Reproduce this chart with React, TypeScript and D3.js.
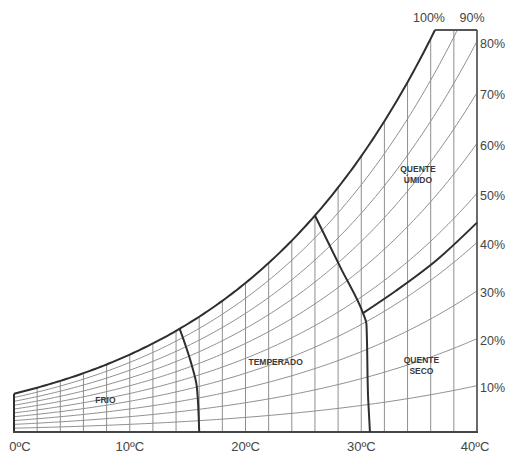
import React from "react";
import * as d3 from "d3";

// Psychrometric grid: dry-bulb temperature (ºC) vs humidity ratio (g/kg)
const TEMP_TICKS = [0, 10, 20, 30, 40];
const TEMP_GRID = [2, 4, 6, 8, 10, 12, 14, 16, 18, 20, 22, 24, 26, 28, 30, 32, 34, 36, 38];
const RH_LEVELS = [10, 20, 30, 40, 50, 60, 70, 80, 90];
const RH_RIGHT_LABELS = [10, 20, 30, 40, 50, 60, 70, 80];
const T_TOP = 36.37; // where saturation reaches the top of the chart

// Zone boundaries as [temperature ºC, humidity ratio g/kg]
const FRIO_TEMPERADO: [number, number][] = [
  [14.3, 10.2],
  [15.3, 6.8],
  [15.8, 4.4],
  [16.0, 0],
];
const TEMPERADO_QUENTE: [number, number][] = [
  [26.0, 21.3],
  [28.2, 16.2],
  [30.15, 11.7],
  [30.45, 10.6],
  [30.6, 3.2],
  [30.75, 0],
];
const QUENTE_SPLIT: [number, number][] = [
  [30.15, 11.7],
  [33, 13.9],
  [36.5, 16.9],
  [40, 20.6],
];

const ZONE_LABELS = [
  { lines: ["FRIO"], t: 7.9, w: 3.1 },
  { lines: ["TEMPERADO"], t: 22.6, w: 6.9 },
  { lines: ["QUENTE", "ÚMIDO"], t: 34.9, w: 25.4 },
  { lines: ["QUENTE", "SECO"], t: 35.2, w: 6.6 },
];

const P_ATM = 101.325;
const psat = (t: number) => 0.61094 * Math.exp((17.625 * t) / (t + 243.04));
const humidity = (t: number, rh: number) => {
  const pv = (rh / 100) * psat(t);
  return (622 * pv) / (P_ATM - pv);
};

const W_TOP = humidity(T_TOP, 100);

export default function App() {
  const width = 512;
  const height = 453;
  const x = d3.scaleLinear().domain([0, 40]).range([14, 477]);
  const y = d3.scaleLinear().domain([0, W_TOP]).range([432, 30]);

  const samples = d3.range(0, 40.001, 0.25);
  const line = d3
    .line<[number, number]>()
    .x((d) => x(d[0]))
    .y((d) => y(d[1]));
  const smooth = d3
    .line<[number, number]>()
    .x((d) => x(d[0]))
    .y((d) => y(d[1]))
    .curve(d3.curveMonotoneY);
  const rhPath = (rh: number) =>
    line(samples.map((t) => [t, humidity(t, rh)] as [number, number])) || "";

  const satPts = samples
    .filter((t) => t <= T_TOP)
    .map((t) => [t, humidity(t, 100)] as [number, number]);
  satPts.push([T_TOP, W_TOP]);

  const grid = "#8f8f8f";
  const dark = "#2e2e2e";
  const font = "'Liberation Sans', Arial, sans-serif";

  return (
    <svg
      width={width}
      height={height}
      style={{ position: "absolute", left: 0, top: 0, background: "#fff" }}
    >
      <defs>
        <clipPath id="plot">
          <rect x={x(0)} y={y(W_TOP)} width={x(40) - x(0)} height={y(0) - y(W_TOP)} />
        </clipPath>
      </defs>

      {/* dry-bulb verticals, up to the saturation curve */}
      {TEMP_GRID.map((t) => (
        <line
          key={t}
          x1={x(t)}
          x2={x(t)}
          y1={y(0)}
          y2={y(Math.min(humidity(t, 100), W_TOP))}
          stroke={grid}
          strokeWidth={1}
        />
      ))}

      {/* relative humidity curves */}
      <g clipPath="url(#plot)">
        {RH_LEVELS.map((rh) => (
          <path key={rh} d={rhPath(rh)} fill="none" stroke={grid} strokeWidth={1} />
        ))}
      </g>

      {/* frame */}
      <line x1={x(0)} x2={x(0)} y1={y(0)} y2={y(humidity(0, 100))} stroke={dark} strokeWidth={2} />
      <line x1={x(40)} x2={x(40)} y1={y(0)} y2={y(W_TOP)} stroke="#6a6a6a" strokeWidth={2} />
      <line x1={x(T_TOP)} x2={x(40)} y1={y(W_TOP)} y2={y(W_TOP)} stroke="#555" strokeWidth={2} />
      <line x1={x(0) - 1} x2={x(40) + 1} y1={y(0)} y2={y(0)} stroke="#444" strokeWidth={2} />

      {/* saturation curve */}
      <path d={line(satPts) || ""} fill="none" stroke={dark} strokeWidth={2} />

      {/* zone boundaries */}
      <path d={smooth(FRIO_TEMPERADO) || ""} fill="none" stroke={dark} strokeWidth={2} />
      <path d={smooth(TEMPERADO_QUENTE) || ""} fill="none" stroke={dark} strokeWidth={2} />
      <path
        d={d3
          .line<[number, number]>()
          .x((d) => x(d[0]))
          .y((d) => y(d[1]))
          .curve(d3.curveMonotoneX)(QUENTE_SPLIT) || ""}
        fill="none"
        stroke={dark}
        strokeWidth={2}
      />

      {/* zone names */}
      {ZONE_LABELS.map((z, i) => (
        <text
          key={i}
          x={x(z.t)}
          y={y(z.w)}
          textAnchor="middle"
          fontFamily={font}
          fontSize={8.5}
          fontWeight="bold"
          fill="#3a3a3a"
        >
          {z.lines.map((s, j) => (
            <tspan key={j} x={x(z.t)} dy={j === 0 ? (z.lines.length > 1 ? -2 : 3) : 11}>
              {s}
            </tspan>
          ))}
        </text>
      ))}

      {/* temperature axis */}
      {TEMP_TICKS.map((t) => (
        <text
          key={t}
          x={x(t) + (t === 0 ? 6 : t === 40 ? -2 : 0)}
          y={451}
          textAnchor="middle"
          fontFamily={font}
          fontSize={13}
          fill="#444"
        >
          {`${t}ºC`}
        </text>
      ))}

      {/* relative humidity labels on the right edge */}
      {RH_RIGHT_LABELS.map((rh) => (
        <text
          key={rh}
          x={480}
          y={y(humidity(40, rh)) + 6.5}
          fontFamily={font}
          fontSize={12.5}
          fill="#444"
        >
          {`${rh}%`}
        </text>
      ))}
      <text x={x(T_TOP) - 6} y={22} textAnchor="middle" fontFamily={font} fontSize={12.5} fill="#444">
        100%
      </text>
      <text x={472} y={22} textAnchor="middle" fontFamily={font} fontSize={12.5} fill="#444">
        90%
      </text>
    </svg>
  );
}
